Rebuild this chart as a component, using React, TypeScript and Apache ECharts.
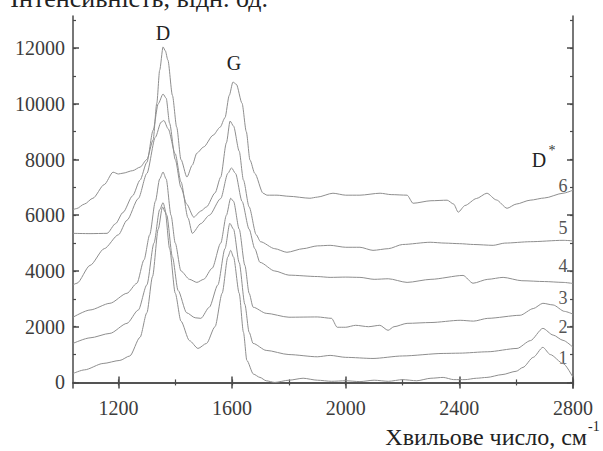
import React, { useEffect, useRef } from "react";
import * as echarts from "echarts";

const xLabelValues = [1200, 1600, 2000, 2400, 2800];
const xMinorValues = [1200, 1400, 1600, 1800, 2000, 2200, 2400, 2600, 2800];
const yLabelValues = [0, 2000, 4000, 6000, 8000, 10000, 12000];
const yMinorValues = [0, 1000, 2000, 3000, 4000, 5000, 6000, 7000, 8000, 9000, 10000, 11000, 12000, 13000];

const curveNames = ["1", "2", "3", "4", "5", "6"];

const curve1: number[][] = [[1040,320],[1080,450],[1146,680],[1205,790],[1240,950],[1276,1620],[1300,2500],[1320,3800],[1340,5500],[1355,6300],[1365,6100],[1380,4800],[1400,3200],[1420,2200],[1450,1500],[1480,1220],[1510,1400],[1540,2000],[1565,3200],[1585,4500],[1595,4740],[1605,4500],[1625,3200],[1640,1800],[1652,790],[1675,300],[1698,180],[1720,60],[1750,0],[1800,80],[1850,150],[1900,80],[1950,40],[2000,60],[2050,30],[2100,80],[2150,40],[2200,100],[2250,60],[2300,150],[2343,180],[2380,100],[2420,100],[2460,150],[2497,180],[2550,280],[2600,400],[2624,540],[2660,900],[2694,1260],[2720,1000],[2765,680],[2800,180]];

const curve2: number[][] = [[1040,1400],[1100,1600],[1170,1760],[1230,2120],[1270,2600],[1300,3500],[1325,5000],[1345,6200],[1357,6450],[1370,6000],[1390,4500],[1410,3300],[1440,2500],[1470,2320],[1490,2300],[1520,2700],[1550,3500],[1575,4800],[1592,5710],[1605,5500],[1625,4300],[1645,2800],[1660,1800],[1674,1400],[1720,1150],[1800,1000],[1900,920],[1945,970],[2000,900],[2096,860],[2200,950],[2343,1040],[2400,1050],[2500,1100],[2603,1220],[2650,1500],[2694,1940],[2730,1700],[2765,1510],[2800,1260]];

const curve3: number[][] = [[1040,2340],[1100,2600],[1170,2840],[1230,3200],[1265,3560],[1290,4400],[1310,5300],[1330,6500],[1345,7300],[1357,7550],[1368,7300],[1385,6000],[1400,5000],[1420,4000],[1450,3700],[1476,3590],[1500,3700],[1530,4100],[1560,5000],[1580,6000],[1595,6610],[1605,6500],[1625,5500],[1645,4200],[1660,3200],[1674,2700],[1720,2480],[1800,2340],[1900,2350],[1950,2300],[1970,1980],[2000,1980],[2035,2050],[2080,2000],[2120,2050],[2149,1870],[2170,2000],[2216,2120],[2300,2150],[2403,2230],[2450,2200],[2500,2300],[2614,2410],[2660,2650],[2694,2840],[2730,2780],[2770,2550],[2800,2450]];

const curve4: number[][] = [[1040,3500],[1054,3560],[1100,4200],[1150,4800],[1200,5300],[1230,5820],[1270,6600],[1300,7500],[1330,8800],[1350,9340],[1360,9400],[1375,9100],[1400,8200],[1420,7200],[1445,5900],[1460,5350],[1490,5700],[1520,6000],[1560,6600],[1585,7500],[1598,7700],[1612,7500],[1635,6500],[1660,5500],[1680,4800],[1698,4310],[1750,4000],[1800,3850],[1900,3800],[1945,3770],[2000,3780],[2050,3770],[2100,3700],[2150,3720],[2216,3590],[2300,3700],[2413,3840],[2448,3560],[2500,3700],[2554,3770],[2620,3650],[2700,3620],[2765,3590],[2800,3550]];

const curve5: number[][] = [[1040,5350],[1100,5340],[1160,5350],[1190,5700],[1216,6100],[1250,6700],[1276,7260],[1300,7900],[1322,9050],[1340,10000],[1357,10350],[1368,10200],[1380,9300],[1400,8000],[1420,7000],[1440,6400],[1465,5930],[1490,6150],[1510,6300],[1540,6800],[1560,7370],[1580,8600],[1593,9380],[1605,9200],[1625,8300],[1640,7260],[1660,6300],[1685,5300],[1700,5050],[1750,4800],[1793,4670],[1850,4800],[1900,4900],[1945,4920],[2000,4850],[2050,4850],[2096,4740],[2150,4800],[2200,4950],[2297,5030],[2350,5000],[2400,4980],[2450,4950],[2519,4920],[2560,5000],[2650,5050],[2765,5100],[2800,5080]];

const curve6: number[][] = [[1040,6200],[1053,6240],[1080,6400],[1110,6610],[1150,7100],[1181,7545],[1200,7480],[1216,7510],[1250,7600],[1276,7725],[1300,8000],[1322,8700],[1335,10020],[1345,11200],[1357,12040],[1365,11900],[1374,11570],[1390,10300],[1405,9160],[1420,8000],[1441,7370],[1460,7800],[1476,8230],[1500,8450],[1533,8870],[1558,9160],[1575,9500],[1590,10300],[1603,10780],[1615,10700],[1635,10020],[1650,9000],[1663,7980],[1680,7500],[1709,6790],[1723,6720],[1758,6720],[1800,6680],[1874,6610],[1900,6650],[1955,6790],[2000,6720],[2050,6720],[2121,6790],[2160,6740],[2216,6720],[2237,6430],[2300,6520],[2357,6540],[2380,6400],[2396,6110],[2420,6350],[2460,6600],[2497,6790],[2530,6550],[2568,6250],[2600,6400],[2649,6540],[2700,6620],[2765,6790],[2800,6900]];

const curves = [curve1, curve2, curve3, curve4, curve5, curve6];

const SERIF = "Liberation Serif, Times New Roman, serif";
const AXIS_COLOR = "#4a4a4a";
const LINE_COLOR = "#8e8e8e";

export default function App() {
  const ref = useRef<HTMLDivElement>(null);

  useEffect(() => {
    if (!ref.current) return;
    const chart = echarts.init(ref.current, undefined, { renderer: "svg" });
    const gridRect = { left: 73, right: 30, top: 16, bottom: 63, containLabel: false };
    const xBase = { type: "value", min: 1040, max: 2800, interval: 40, splitLine: { show: false } };
    const yBase = { type: "value", min: -200, max: 13150, interval: 200, splitLine: { show: false } };
    const lineStyle = { color: AXIS_COLOR, width: 1.5 };
    const majorTick = (vals: number[]) => ({ show: true, inside: true, length: 6, customValues: vals, lineStyle });
    const minorTick = (vals: number[]) => ({ show: true, inside: true, length: 3, customValues: vals, lineStyle: { color: AXIS_COLOR, width: 1.2 } });
    const label = (vals: number[], margin: number) => ({
      show: true, margin, showMinLabel: false, showMaxLabel: true,
      fontFamily: SERIF, fontSize: 20, color: "#3c3c3c",
      formatter: (v: number) => (vals.indexOf(Math.round(v)) >= 0 ? String(Math.round(v)) : ""),
    });
    const txt = (text: string, x: number, y: number, size: number, fill: string, align = "center", va = "middle") => ({
      type: "text", x, y,
      style: { text, fontFamily: SERIF, fontSize: size, fill, align, verticalAlign: va },
    });

    chart.setOption({
      animation: false,
      backgroundColor: "#ffffff",
      textStyle: { fontFamily: SERIF },
      grid: [gridRect, gridRect],
      xAxis: [
        { ...xBase, gridIndex: 0, position: "bottom", axisLine: { show: true, lineStyle }, axisTick: majorTick(xLabelValues), axisLabel: label(xLabelValues, 10) },
        { ...xBase, gridIndex: 0, position: "top", axisLine: { show: true, lineStyle }, axisTick: majorTick(xLabelValues), axisLabel: { show: false } },
        { ...xBase, gridIndex: 1, position: "bottom", axisLine: { show: false }, axisTick: minorTick(xMinorValues), axisLabel: { show: false } },
        { ...xBase, gridIndex: 1, position: "top", axisLine: { show: false }, axisTick: minorTick(xMinorValues), axisLabel: { show: false } },
      ],
      yAxis: [
        { ...yBase, gridIndex: 0, position: "left", axisLine: { show: true, lineStyle }, axisTick: majorTick(yLabelValues), axisLabel: label(yLabelValues, 8) },
        { ...yBase, gridIndex: 0, position: "right", axisLine: { show: true, lineStyle }, axisTick: majorTick(yLabelValues), axisLabel: { show: false } },
        { ...yBase, gridIndex: 1, position: "left", axisLine: { show: false }, axisTick: minorTick(yMinorValues), axisLabel: { show: false } },
        { ...yBase, gridIndex: 1, position: "right", axisLine: { show: false }, axisTick: minorTick(yMinorValues), axisLabel: { show: false } },
      ],
      series: curves.map((c, i) => ({
        name: curveNames[i],
        type: "line",
        xAxisIndex: 0,
        yAxisIndex: 0,
        data: c,
        showSymbol: false,
        smooth: 0.25,
        smoothMonotone: "x",
        lineStyle: { color: LINE_COLOR, width: 1 },
        z: 1,
      })),
      graphic: [
        txt("Інтенсивність, відн. од.", 268, 11, 26, "#222", "right", "bottom"),
        txt("Хвильове число, см", 587, 449, 24, "#222", "right", "bottom"),
        txt("-1", 588, 419, 14, "#222", "left", "top"),
        txt("D", 163, 33, 20, "#222"),
        txt("G", 234, 63, 20, "#222"),
        txt("D", 539, 160, 20, "#222"),
        txt("*", 552, 150, 14, "#333"),
        txt(curveNames[5], 563, 186, 18, "#555"),
        txt(curveNames[4], 563, 228, 18, "#555"),
        txt(curveNames[3], 563, 266, 18, "#555"),
        txt(curveNames[2], 563, 298, 18, "#555"),
        txt(curveNames[1], 563, 327, 18, "#555"),
        txt(curveNames[0], 563, 358, 18, "#555"),
      ],
    });
    return () => chart.dispose();
  }, []);

  return (
    <div
      ref={ref}
      style={{ position: "fixed", left: 0, top: 0, width: 603, height: 451, background: "#fff" }}
    />
  );
}
